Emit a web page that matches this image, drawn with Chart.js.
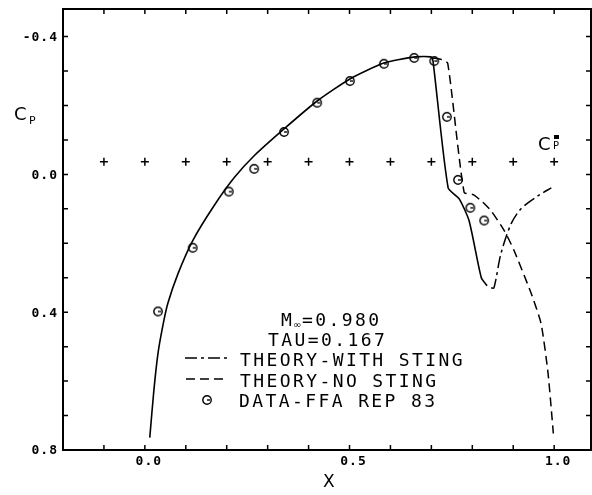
<!DOCTYPE html>
<html>
<head>
<meta charset="utf-8">
<script src="https://cdn.jsdelivr.net/npm/chart.js@4/dist/chart.umd.min.js"></script>
<style>
    html, body { margin: 0; padding: 0; background: #fff; }
</style>
</head>
<body>
<canvas id="cpChart" width="592" height="495"></canvas>
<script>
// Test data (circles)
const dataX  = [0.032, 0.117, 0.205, 0.267, 0.340, 0.421, 0.501, 0.584, 0.658, 0.707, 0.738, 0.765, 0.795, 0.829];
const dataCp = [0.398, 0.213, 0.050, -0.016, -0.123, -0.208, -0.271, -0.321, -0.338, -0.329, -0.167, 0.016, 0.097, 0.134];

// Solid theory curve
const solidX  = [0.012, 0.022, 0.032, 0.044, 0.056, 0.081, 0.117, 0.169, 0.218, 0.267, 0.340, 0.421, 0.501, 0.584, 0.660, 0.699, 0.704, 0.741, 0.768, 0.792, 0.822, 0.836];
const solidCp = [0.764, 0.627, 0.520, 0.439, 0.375, 0.288, 0.192, 0.091, 0.010, -0.054, -0.132, -0.213, -0.277, -0.323, -0.341, -0.341, -0.329, 0.039, 0.071, 0.134, 0.300, 0.323];

// Theory with sting (dash-dot continuation)
const stingX  = [0.846, 0.853, 0.870, 0.895, 0.919, 0.961, 0.993];
const stingCp = [0.330, 0.329, 0.230, 0.143, 0.100, 0.062, 0.039];

// Theory, no sting (dashed)
const noStingX  = [0.704, 0.725, 0.740, 0.780, 0.802, 0.822, 0.846, 0.878, 0.902, 0.944, 0.968, 0.985, 0.998];
const noStingCp = [-0.338, -0.333, -0.322, 0.052, 0.059, 0.077, 0.106, 0.163, 0.221, 0.346, 0.433, 0.577, 0.752];

// Critical Cp* markers
const starX  = [-0.1, 0.0, 0.1, 0.2, 0.3, 0.4, 0.5, 0.6, 0.7, 0.8, 0.9, 1.0];
const starCp = [-0.037, -0.037, -0.037, -0.037, -0.037, -0.037, -0.037, -0.037, -0.037, -0.037, -0.037, -0.037];

// Axes
const xTicks = [-0.1, 0.0, 0.1, 0.2, 0.3, 0.4, 0.5, 0.6, 0.7, 0.8, 0.9, 1.0];
const xLabelValues = [0.0, 0.5, 1.0];
const xLabels = ["0.0", "0.5", "1.0"];
const yTicks = [-0.4, -0.3, -0.2, -0.1, 0.0, 0.1, 0.2, 0.3, 0.4, 0.5, 0.6, 0.7, 0.8];
const yLabelValues = [-0.4, 0.0, 0.4, 0.8];
const yLabels = ["-0.4", "0.0", "0.4", "0.8"];

function pairs(xs, ys) {
    return xs.map((v, i) => ({ x: v, y: ys[i] }));
}

// circle symbol used for the data points
const sym = document.createElement("canvas");
sym.width = 12; sym.height = 12;
(function () {
    const s = sym.getContext("2d");
    s.strokeStyle = "#000";
    s.lineWidth = 1.4;
    s.beginPath(); s.arc(6, 6, 4.2, 0, Math.PI * 2); s.stroke();
    s.beginPath(); s.moveTo(6, 6); s.lineTo(9, 6); s.stroke();
})();

const frameAndText = {
    id: "frameAndText",
    afterDraw(chart) {
        const ctx = chart.ctx;
        const a = chart.chartArea;
        const xs = chart.scales.x, ys = chart.scales.y;
        ctx.save();
        ctx.strokeStyle = "#000";
        ctx.fillStyle = "#000";

        // frame
        ctx.lineWidth = 2;
        ctx.strokeRect(a.left, a.top, a.right - a.left, a.bottom - a.top);

        // inward ticks
        ctx.lineWidth = 1.5;
        ctx.beginPath();
        xTicks.forEach(v => {
            const px = xs.getPixelForValue(v);
            ctx.moveTo(px, a.bottom); ctx.lineTo(px, a.bottom - 5);
            ctx.moveTo(px, a.top); ctx.lineTo(px, a.top + 5);
        });
        yTicks.forEach(v => {
            const py = ys.getPixelForValue(v);
            ctx.moveTo(a.left, py); ctx.lineTo(a.left + 5, py);
            ctx.moveTo(a.right, py); ctx.lineTo(a.right - 5, py);
        });
        ctx.stroke();

        // tick labels
        ctx.font = "bold 13px 'DejaVu Sans Mono'";
        ctx.letterSpacing = "1px";
        ctx.textAlign = "center";
        ctx.textBaseline = "alphabetic";
        xLabelValues.forEach((v, i) => {
            ctx.fillText(xLabels[i], xs.getPixelForValue(v) + 4, 465);
        });
        ctx.textAlign = "right";
        ctx.textBaseline = "middle";
        yLabelValues.forEach((v, i) => {
            ctx.fillText(yLabels[i], 58, ys.getPixelForValue(v) + 1);
        });

        // axis titles
        ctx.letterSpacing = "0px";
        ctx.textAlign = "left";
        ctx.textBaseline = "alphabetic";
        ctx.font = "17px 'DejaVu Sans'";
        ctx.fillText("X", 323, 487);
        ctx.font = "18px 'DejaVu Sans'";
        ctx.fillText("C", 14, 120);
        ctx.font = "11px 'DejaVu Sans'";
        ctx.fillText("P", 29, 124);

        // Cp* label
        ctx.font = "18px 'DejaVu Sans'";
        ctx.fillText("C", 538, 150);
        ctx.font = "10px 'DejaVu Sans'";
        ctx.fillText("P", 553, 149);
        ctx.fillRect(554, 135, 5, 4);

        // annotation block
        ctx.font = "18px 'DejaVu Sans Mono'";
        ctx.letterSpacing = "2.4px";
        ctx.fillText("M", 281, 326);
        ctx.font = "10px 'DejaVu Sans'";
        ctx.letterSpacing = "0px";
        ctx.fillText("\u221e", 293, 328);
        ctx.font = "18px 'DejaVu Sans Mono'";
        ctx.letterSpacing = "2.4px";
        ctx.fillText("=0.980", 302, 326);
        ctx.fillText("TAU=0.167", 268, 346);
        ctx.fillText("THEORY-WITH STING", 240, 366);
        ctx.fillText("THEORY-NO STING", 240, 387);
        ctx.fillText("DATA-FFA REP 83", 239, 407);

        // legend samples
        ctx.lineWidth = 1.5;
        ctx.setLineDash([12, 4, 3, 4]);
        ctx.beginPath(); ctx.moveTo(185, 358); ctx.lineTo(227, 358); ctx.stroke();
        ctx.setLineDash([9, 5]);
        ctx.beginPath(); ctx.moveTo(186, 379); ctx.lineTo(223, 379); ctx.stroke();
        ctx.setLineDash([]);
        ctx.drawImage(sym, 201, 394);

        ctx.restore();
    }
};

new Chart(document.getElementById("cpChart").getContext("2d"), {
    type: "scatter",
    data: {
        datasets: [
            {
                label: "Theory",
                data: pairs(solidX, solidCp),
                showLine: true,
                borderColor: "#000",
                borderWidth: 1.6,
                pointRadius: 0,
                tension: 0.2
            },
            {
                label: "Theory-with sting",
                data: pairs(stingX, stingCp),
                showLine: true,
                borderColor: "#000",
                borderWidth: 1.5,
                borderDash: [12, 4, 3, 4],
                pointRadius: 0,
                tension: 0.3
            },
            {
                label: "Theory-no sting",
                data: pairs(noStingX, noStingCp),
                showLine: true,
                borderColor: "#000",
                borderWidth: 1.5,
                borderDash: [9, 5],
                pointRadius: 0,
                tension: 0.2
            },
            {
                label: "Data-FFA Rep 83",
                data: pairs(dataX, dataCp),
                pointStyle: sym,
                pointRadius: 6
            },
            {
                label: "Cp*",
                data: pairs(starX, starCp),
                pointStyle: "cross",
                pointRadius: 4,
                borderColor: "#000",
                borderWidth: 1.5
            }
        ]
    },
    options: {
        responsive: false,
        animation: false,
        layout: { autoPadding: false, padding: { left: 63, right: 1, top: 9, bottom: 45 } },
        scales: {
            x: { type: "linear", min: -0.2, max: 1.09, display: false },
            y: { type: "linear", min: -0.48, max: 0.8, reverse: true, display: false }
        },
        plugins: {
            legend: { display: false },
            tooltip: { enabled: false }
        }
    },
    plugins: [frameAndText]
});
</script>
</body>
</html>
